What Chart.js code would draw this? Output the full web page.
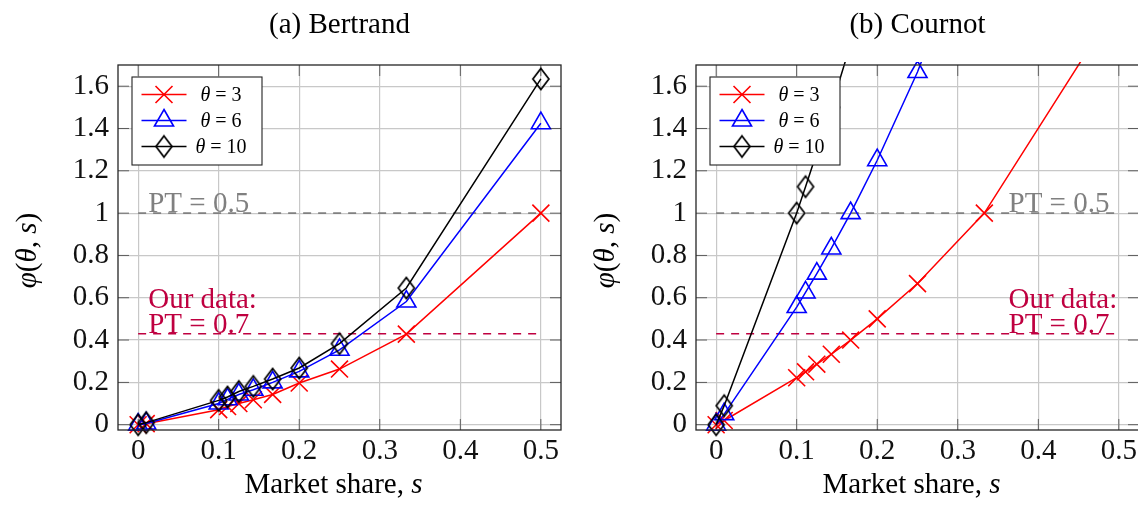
<!DOCTYPE html>
<html>
<head>
<meta charset="utf-8">
<script src="https://cdn.jsdelivr.net/npm/chart.js@4.4.1/dist/chart.umd.min.js"></script>
<style>
  html, body { margin: 0; padding: 0; background: #fff; overflow: hidden; }
  body { width: 1138px; height: 508px; position: relative; }
  .panel { position: absolute; top: 0; width: 590px; height: 508px; }
</style>
</head>
<body>
<div class="panel" style="left:0"><canvas id="bertrand" width="590" height="508"></canvas></div>
<div class="panel" style="left:578px"><canvas id="cournot" width="590" height="508"></canvas></div>
<script>

// market shares s (1/n for n firms, plus the two points near zero)
var shares = [0, 0.01, 0.1, 0.111, 0.125, 0.143, 0.167, 0.2, 0.25, 0.333, 0.5];

// (a) Bertrand
var bertrandTheta3  = [0, 0.005, 0.071, 0.086, 0.1, 0.118, 0.143, 0.197, 0.263, 0.428, 1.0];
var bertrandTheta6  = [0, 0.006, 0.1, 0.12, 0.143, 0.165, 0.2, 0.252, 0.354, 0.582, 1.425];
var bertrandTheta10 = [0, 0.01, 0.115, 0.131, 0.157, 0.181, 0.216, 0.268, 0.383, 0.646, 1.634];

// (b) Cournot
var cournotTheta3  = [0, 0.02, 0.222, 0.25, 0.286, 0.333, 0.4, 0.5, 0.667, 1.0, 2.0];
var cournotTheta6  = [0, 0.05, 0.556, 0.625, 0.714, 0.833, 1.0, 1.25, 1.667, 2.5, 5.0];
var cournotTheta10 = [0, 0.09, 1.0, 1.125, 1.286, 1.5, 1.8, 2.25, 3.0, 4.5, 9.0];

var thetas = ['3', '6', '10'];

var xTicks = [0, 0.1, 0.2, 0.3, 0.4, 0.5];
var xTickLabels = ['0', '0.1', '0.2', '0.3', '0.4', '0.5'];
var yTicks = [0, 0.2, 0.4, 0.6, 0.8, 1, 1.2, 1.4, 1.6];
var yTickLabels = ['0', '0.2', '0.4', '0.6', '0.8', '1', '1.2', '1.4', '1.6'];

// horizontal reference levels
var refShares = [0, 0.5];
var levelPT05 = 1.0;   // PT = 0.5
var levelPT07 = 0.43;  // our data, PT = 0.7

var FONT = '"Liberation Serif", "Times New Roman", serif';
var PURPLE = 'rgb(191,0,64)';
var GRAY = 'rgb(128,128,128)';

function diamondImage(color) {
	var c = document.createElement('canvas');
	c.width = 22; c.height = 26;
	var g = c.getContext('2d');
	g.strokeStyle = color;
	g.lineWidth = 1.7;
	g.beginPath();
	g.moveTo(11, 2.5); g.lineTo(19, 13); g.lineTo(11, 23.5); g.lineTo(3, 13);
	g.closePath();
	g.stroke();
	return c;
}

function points(xs, ys) {
	return xs.map(function(x, i){ return {x: x, y: ys[i]}; });
}

// text with italic pieces: parts = [[text, italic], ...]
function richText(ctx, parts, x, y, align, size) {
	var w = 0;
	parts.forEach(function(p){
		ctx.font = (p[1] ? 'italic ' : '') + size + 'px ' + FONT;
		w += ctx.measureText(p[0]).width;
	});
	var cx = align === 'center' ? x - w / 2 : (align === 'right' ? x - w : x);
	ctx.textAlign = 'left';
	ctx.textBaseline = 'alphabetic';
	parts.forEach(function(p){
		ctx.font = (p[1] ? 'italic ' : '') + size + 'px ' + FONT;
		ctx.fillText(p[0], cx, y);
		cx += ctx.measureText(p[0]).width;
	});
}

function drawMark(ctx, ds, x, y) {
	ctx.save();
	ctx.strokeStyle = ds.borderColor;
	ctx.fillStyle = 'rgba(0,0,0,0)';
	ctx.lineWidth = ds.pointBorderWidth;
	Chart.helpers.drawPoint(ctx, {
		pointStyle: ds.pointStyle,
		radius: ds.pointRadius,
		rotation: 0,
		borderWidth: ds.pointBorderWidth
	}, x, y);
	ctx.restore();
}

var paper = {
	id: 'paper',
	afterDatasetsDraw(chart, args, opts) {
		var ctx = chart.ctx, a = chart.chartArea;
		var xs = chart.scales.x, ys = chart.scales.y;
		ctx.save();

		// inward tick marks on all sides
		ctx.strokeStyle = 'rgba(0,0,0,0.55)';
		ctx.lineWidth = 1;
		ctx.beginPath();
		xTicks.forEach(function(v){
			var px = xs.getPixelForValue(v);
			ctx.moveTo(px, a.bottom); ctx.lineTo(px, a.bottom - 11);
			ctx.moveTo(px, a.top); ctx.lineTo(px, a.top + 11);
		});
		yTicks.forEach(function(v){
			var py = ys.getPixelForValue(v);
			ctx.moveTo(a.left, py); ctx.lineTo(a.left + 11, py);
			ctx.moveTo(a.right, py); ctx.lineTo(a.right - 11, py);
		});
		ctx.stroke();

		// notes on the reference lines
		opts.notes.forEach(function(n){
			ctx.fillStyle = n.color;
			var px = xs.getPixelForValue(n.x);
			var py = ys.getPixelForValue(n.y);
			for (var i = n.lines.length - 1, k = 0; i >= 0; i--, k++) {
				richText(ctx, [[n.lines[i], false]], px, py - 1 - k * 24.5, 'left', 29);
			}
		});

		// legend box
		var bx = a.left + 14, by = a.top + 12;
		ctx.fillStyle = '#fff';
		ctx.fillRect(bx, by, 130, 88);
		ctx.strokeStyle = '#222';
		ctx.lineWidth = 1.1;
		ctx.strokeRect(bx, by, 130, 88);
		var entries = chart.data.datasets.filter(function(d){ return d.legendText; });
		entries.forEach(function(ds, i){
			var ry = a.top + 29.5 + i * 26;
			ctx.strokeStyle = ds.borderColor;
			ctx.lineWidth = ds.borderWidth;
			ctx.beginPath();
			ctx.moveTo(a.left + 23.5, ry); ctx.lineTo(a.left + 68.5, ry);
			ctx.stroke();
			drawMark(ctx, ds, a.left + 46, ry);
			ctx.fillStyle = '#000';
			richText(ctx, [['\u03b8', true], [' = ' + ds.legendText, false]], a.left + 103, ry + 6.5, 'center', 20);
		});

		// frame
		ctx.strokeStyle = '#262626';
		ctx.lineWidth = 1.3;
		ctx.strokeRect(a.left, a.top, a.right - a.left, a.bottom - a.top);

		// titles
		var cx = (a.left + a.right) / 2;
		ctx.fillStyle = '#000';
		richText(ctx, [[opts.title, false]], cx, 33, 'center', 29);
		richText(ctx, [['Market share, ', false], ['s', true]], cx - 6, 493, 'center', 29);
		ctx.translate(a.left - 82, (a.top + a.bottom) / 2 + 3);
		ctx.rotate(-Math.PI / 2);
		richText(ctx, [['\u03c6', true], ['(', false], ['\u03b8', true], [', ', false], ['s', true], [')', false]], 0, 0, 'center', 29);
		ctx.restore();
	}
};

function series(label, values, color, style, radius, order) {
	return {
		legendText: label,
		data: points(shares, values),
		borderColor: color,
		borderWidth: 1.5,
		pointStyle: style,
		pointRadius: radius,
		pointHoverRadius: radius,
		pointBorderWidth: 1.6,
		pointBorderColor: color,
		pointBackgroundColor: 'rgba(0,0,0,0)',
		tension: 0,
		order: order,
		clip: {left: 15, right: 15, bottom: 15, top: 3}
	};
}

function refLine(level, color, order) {
	return {
		data: points(refShares, [level, level]),
		borderColor: color,
		borderWidth: 1.6,
		borderDash: [8, 7],
		pointRadius: 0,
		order: order
	};
}

function makeChart(id, title, v3, v6, v10, notes) {
	return new Chart(document.getElementById(id), {
		type: 'line',
		data: {
			datasets: [
				series(thetas[0], v3, '#ff0000', 'crossRot', 12, 3),
				series(thetas[1], v6, '#0000ff', 'triangle', 11, 2),
				series(thetas[2], v10, '#000000', diamondImage('#000000'), 10, 1),
				refLine(levelPT05, GRAY, 5),
				refLine(levelPT07, PURPLE, 4)
			]
		},
		options: {
			responsive: false,
			animation: false,
			layout: { padding: { left: 0, top: 65, right: 29, bottom: 0 } },
			plugins: {
				legend: { display: false },
				tooltip: { enabled: false },
				paper: { title: title, notes: notes }
			},
			scales: {
				x: {
					type: 'linear',
					min: -0.025, max: 0.525,
					afterBuildTicks: function(s){ s.ticks = xTicks.map(function(v){ return {value: v}; }); },
					afterFit: function(s){ s.height = 78; },
					ticks: {
						autoSkip: false, maxRotation: 0, padding: 4, color: '#111',
						font: { family: FONT, size: 29 },
						callback: function(v, i){ return xTickLabels[i]; }
					},
					grid: { color: 'rgb(200,200,200)', lineWidth: 1.2, drawTicks: false },
					border: { display: false }
				},
				y: {
					type: 'linear',
					min: -0.025, max: 1.7,
					afterBuildTicks: function(s){ s.ticks = yTicks.map(function(v){ return {value: v}; }); },
					afterFit: function(s){ s.width = 118; },
					ticks: {
						autoSkip: false, padding: 9, color: '#111',
						font: { family: FONT, size: 29 },
						callback: function(v, i){ return yTickLabels[i]; }
					},
					grid: { color: 'rgb(200,200,200)', lineWidth: 1.2, drawTicks: false },
					border: { display: false }
				}
			}
		},
		plugins: [paper]
	});
}

makeChart('bertrand', '(a) Bertrand', bertrandTheta3, bertrandTheta6, bertrandTheta10, [
	{ lines: ['PT = 0.5'], color: GRAY, x: 0.0125, y: levelPT05 },
	{ lines: ['Our data:', 'PT = 0.7'], color: PURPLE, x: 0.0125, y: levelPT07 }
]);

makeChart('cournot', '(b) Cournot', cournotTheta3, cournotTheta6, cournotTheta10, [
	{ lines: ['PT = 0.5'], color: GRAY, x: 0.363, y: levelPT05 },
	{ lines: ['Our data:', 'PT = 0.7'], color: PURPLE, x: 0.363, y: levelPT07 }
]);

</script>
</body>
</html>
